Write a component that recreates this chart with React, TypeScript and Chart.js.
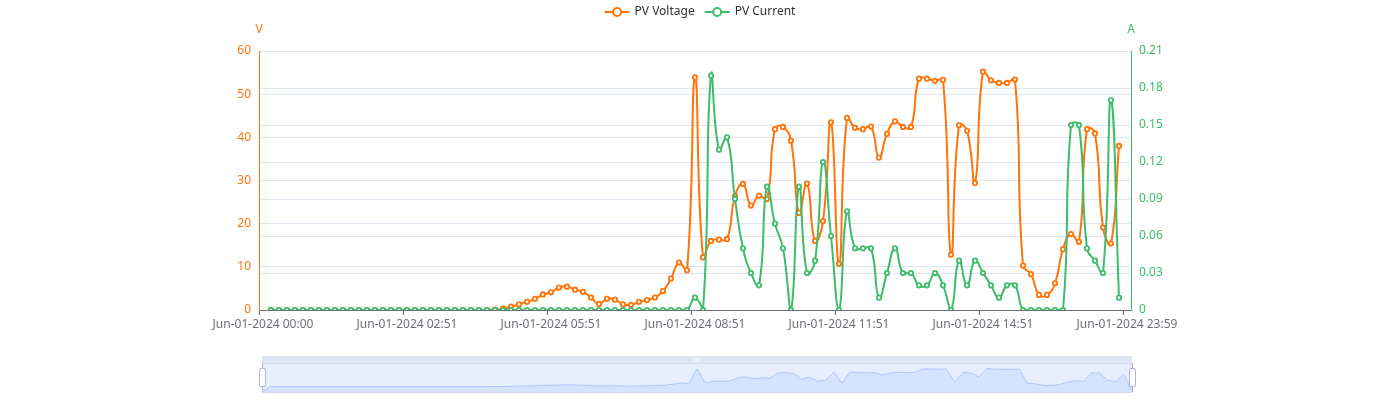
import React, { useEffect, useRef } from "react";
import { Chart, registerables } from "chart.js";

Chart.register(...registerables);

// ---------- data ----------
const DATE = "Jun-01-2024";
const TIMES = [
  "00:00",
  "00:01", "00:11", "00:21", "00:31", "00:41", "00:51",
  "01:01", "01:11", "01:21", "01:31", "01:41", "01:51",
  "02:01", "02:11", "02:21", "02:31", "02:41", "02:51",
  "03:01", "03:11", "03:21", "03:31", "03:41", "03:51",
  "04:01", "04:11", "04:21", "04:31", "04:41", "04:51",
  "05:01", "05:11", "05:21", "05:31", "05:41", "05:51",
  "06:01", "06:11", "06:21", "06:31", "06:41", "06:51",
  "07:01", "07:11", "07:21", "07:31", "07:41", "07:51",
  "08:01", "08:11", "08:21", "08:31", "08:41", "08:51",
  "09:01", "09:11", "09:21", "09:31", "09:41", "09:51",
  "10:01", "10:11", "10:21", "10:31", "10:41", "10:51",
  "11:01", "11:11", "11:21", "11:31", "11:41", "11:51",
  "12:01", "12:11", "12:21", "12:31", "12:41", "12:51",
  "13:01", "13:11", "13:21", "13:31", "13:41", "13:51",
  "14:01", "14:11", "14:21", "14:31", "14:41", "14:51",
  "15:01", "15:11", "15:21", "15:31", "15:41", "15:51",
  "16:01", "16:11", "16:21", "16:31", "16:41", "16:51",
  "17:01", "17:11", "17:21", "17:31", "17:41",
  "23:59",
];
const LABELS = TIMES.map((t) => `${DATE} ${t}`);

const VOLTAGE: (number | null)[] = [
  null,
  0, 0, 0, 0, 0, 0, 0, 0, 0, 0, 0, 0, 0, 0,
  0, 0, 0, 0, 0, 0, 0, 0, 0, 0, 0, 0, 0, 0,
  0.1, 0.3, 0.8, 1.3, 1.9, 2.6, 3.6, 4.1, 5.2, 5.4,
  4.7, 4.2, 2.9, 1.4, 2.6, 2.4, 1.3, 1.2, 1.9, 2.3,
  2.9, 4.4, 7.3, 11.0, 9.2,
  53.9, 12.2, 16.0, 16.3, 16.4, 26.4, 29.2, 24.2, 26.5, 25.7,
  41.9, 42.4, 39.2, 22.5, 29.3, 16.0, 20.6, 43.5, 10.7, 44.5,
  42.2, 41.9, 42.5, 35.3, 40.8, 43.7, 42.4, 42.4, 53.6, 53.6,
  53.1, 53.3, 12.8, 42.8, 41.5, 29.4, 55.2, 53.2, 52.6, 52.6,
  53.4, 10.3, 8.3, 3.5, 3.5, 6.2, 14.1, 17.6, 15.8, 41.9,
  40.9, 19.1, 15.4, 38.0,
  null,
];

const CURRENT: (number | null)[] = [
  null,
  0, 0, 0, 0, 0, 0, 0, 0, 0, 0, 0, 0, 0, 0, 0, 0, 0, 0,
  0, 0, 0, 0, 0, 0, 0, 0, 0, 0, 0, 0, 0, 0, 0, 0, 0, 0,
  0, 0, 0, 0, 0, 0, 0, 0, 0, 0, 0, 0, 0, 0, 0, 0, 0,
  0.01, 0, 0.19, 0.13, 0.14, 0.09, 0.05, 0.03, 0.02, 0.10,
  0.07, 0.05, 0, 0.10, 0.03, 0.04, 0.12, 0.06, 0, 0.08,
  0.05, 0.05, 0.05, 0.01, 0.03, 0.05, 0.03, 0.03, 0.02, 0.02,
  0.03, 0.02, 0, 0.04, 0.02, 0.04, 0.03, 0.02, 0.01, 0.02,
  0.02, 0, 0, 0, 0, 0, 0, 0.15, 0.15, 0.05,
  0.04, 0.03, 0.17, 0.01,
  null,
];

const SERIES_NAMES = ["PV Voltage", "PV Current"];
const AXIS_NAMES = ["V", "A"];
const V_AXIS = { min: 0, max: 60, step: 10 };
const A_AXIS = { min: 0, max: 0.21, step: 0.03 };
const LABEL_EVERY = 18;

// ---------- style ----------
const ORANGE = "#ff7409";
const GREEN = "#3dbd69";
const GRID = "#e0e6f1";
const AXIS_GRAY = "#6e7079";
const TEXT = "#333";
const FONT = "'Noto Sans', 'DejaVu Sans', sans-serif";

const W = 1400;
const MAIN_H = 340;
const ZOOM_H = 60;
const PLOT_LEFT = 259;
const PLOT_RIGHT = 1131;
const PLOT_TOP = 51;
const X_AXIS_H = 30;

const legendPlugin = {
  id: "echartsLegend",
  afterDraw(chart: any) {
    const ctx: CanvasRenderingContext2D = chart.ctx;
    ctx.save();
    ctx.font = `12px ${FONT}`;
    const items = chart.data.datasets.map((ds: any) => ({ text: ds.label, color: ds.borderColor }));
    const iconW = 25;
    const textPad = 5;
    const gap = 10;
    const widths = items.map((it: any) => ctx.measureText(it.text).width);
    const total =
      widths.reduce((a: number, w: number) => a + iconW + textPad + w, 0) + gap * (items.length - 1);
    let x = chart.width / 2 - total / 2;
    const y = 12;
    items.forEach((it: any, i: number) => {
      ctx.strokeStyle = it.color;
      ctx.lineWidth = 2;
      ctx.beginPath();
      ctx.moveTo(x, y);
      ctx.lineTo(x + iconW, y);
      ctx.stroke();
      ctx.beginPath();
      ctx.arc(x + iconW / 2, y, 4, 0, Math.PI * 2);
      ctx.fillStyle = "#fff";
      ctx.fill();
      ctx.stroke();
      ctx.fillStyle = TEXT;
      ctx.textAlign = "left";
      ctx.textBaseline = "middle";
      ctx.fillText(it.text, x + iconW + textPad, y);
      x += iconW + textPad + widths[i] + gap;
    });
    // axis names above the y axes
    const area = chart.chartArea;
    ctx.textAlign = "center";
    ctx.textBaseline = "middle";
    ctx.fillStyle = ORANGE;
    ctx.fillText(AXIS_NAMES[0], area.left, area.top - 21);
    ctx.fillStyle = GREEN;
    ctx.fillText(AXIS_NAMES[1], area.right, area.top - 21);
    ctx.restore();
  },
};

const sliderPlugin = {
  id: "echartsSlider",
  afterDatasetsDraw(chart: any) {
    const ctx: CanvasRenderingContext2D = chart.ctx;
    const a = chart.chartArea;
    ctx.save();
    // selected range filler
    ctx.fillStyle = "rgba(135,175,255,0.2)";
    ctx.fillRect(a.left, a.top, a.right - a.left, a.bottom - a.top);
    // border
    ctx.strokeStyle = "#d2dbee";
    ctx.lineWidth = 1;
    ctx.strokeRect(a.left + 0.5, a.top + 0.5, a.right - a.left - 1, a.bottom - a.top);
    // move handle bar
    ctx.fillStyle = "rgba(210,219,238,0.7)";
    ctx.fillRect(a.left, a.top - 7, a.right - a.left, 7);
    const cx = (a.left + a.right) / 2;
    ctx.fillStyle = "#fff";
    [-2.5, 0, 2.5].forEach((d) => ctx.fillRect(cx + d - 0.5, a.top - 5.5, 1, 4));
    // handles
    const h = a.bottom - a.top;
    const bodyH = h * 0.625;
    const bodyW = 6;
    const cy = a.top + h / 2;
    [a.left, a.right].forEach((hx) => {
      ctx.strokeStyle = "#acb8d1";
      ctx.lineWidth = 1;
      ctx.beginPath();
      ctx.moveTo(hx + 0.5, a.top);
      ctx.lineTo(hx + 0.5, a.bottom);
      ctx.stroke();
      const x0 = hx - bodyW / 2 + 0.5;
      const y0 = cy - bodyH / 2;
      const r = 1.5;
      ctx.beginPath();
      ctx.moveTo(x0 + r, y0);
      ctx.lineTo(x0 + bodyW - r, y0);
      ctx.arcTo(x0 + bodyW, y0, x0 + bodyW, y0 + r, r);
      ctx.lineTo(x0 + bodyW, y0 + bodyH - r);
      ctx.arcTo(x0 + bodyW, y0 + bodyH, x0 + bodyW - r, y0 + bodyH, r);
      ctx.lineTo(x0 + r, y0 + bodyH);
      ctx.arcTo(x0, y0 + bodyH, x0, y0 + bodyH - r, r);
      ctx.lineTo(x0, y0 + r);
      ctx.arcTo(x0, y0, x0 + r, y0, r);
      ctx.closePath();
      ctx.fillStyle = "#fff";
      ctx.fill();
      ctx.stroke();
    });
    ctx.restore();
  },
};

export default function App() {
  const mainRef = useRef<HTMLCanvasElement | null>(null);
  const zoomRef = useRef<HTMLCanvasElement | null>(null);

  useEffect(() => {
    if (!mainRef.current || !zoomRef.current) return;
    Chart.defaults.font.family = FONT;
    Chart.defaults.font.size = 12;

    const main = new Chart(mainRef.current, {
      type: "line",
      data: {
        labels: LABELS,
        datasets: [
          {
            label: SERIES_NAMES[0],
            data: VOLTAGE,
            yAxisID: "y",
            borderColor: ORANGE,
            backgroundColor: ORANGE,
            borderWidth: 2,
            tension: 0.5,
            pointRadius: 2.2,
            pointBorderWidth: 1.8,
            pointBackgroundColor: "#fff",
            pointBorderColor: ORANGE,
            order: 2,
          },
          {
            label: SERIES_NAMES[1],
            data: CURRENT,
            yAxisID: "y1",
            borderColor: GREEN,
            backgroundColor: GREEN,
            borderWidth: 2,
            tension: 0.5,
            pointRadius: 2.2,
            pointBorderWidth: 1.8,
            pointBackgroundColor: "#fff",
            pointBorderColor: GREEN,
            order: 1,
          },
        ],
      },
      options: {
        responsive: false,
        maintainAspectRatio: false,
        animation: false,
        layout: { padding: { top: PLOT_TOP, left: 0, right: 0, bottom: 0 } },
        plugins: {
          legend: { display: false },
          tooltip: { enabled: false },
          title: { display: false },
        },
        scales: {
          x: {
            type: "category",
            offset: true,
            grid: {
              display: true,
              drawOnChartArea: false,
              drawTicks: true,
              tickLength: 5,
              offset: true,
              color: (c: any) =>
                typeof c.index === "number" && c.index % LABEL_EVERY === 0 ? AXIS_GRAY : "rgba(0,0,0,0)",
            },
            border: { display: true, color: AXIS_GRAY, width: 1 },
            ticks: {
              autoSkip: false,
              maxRotation: 0,
              minRotation: 0,
              padding: 2,
              color: AXIS_GRAY,
              font: { size: 12, family: FONT },
              callback: function (this: any, v: any, i: number) {
                return i % LABEL_EVERY === 0 ? this.getLabelForValue(v) : "";
              },
            },
            afterFit: (s: any) => {
              s.height = X_AXIS_H;
            },
          },
          y: {
            type: "linear",
            position: "left",
            min: V_AXIS.min,
            max: V_AXIS.max,
            ticks: { stepSize: V_AXIS.step, color: ORANGE, padding: 8, font: { size: 12, family: FONT } },
            grid: { color: GRID, drawTicks: false },
            border: { display: true, color: ORANGE, width: 1 },
            afterFit: (s: any) => {
              s.width = PLOT_LEFT;
            },
          },
          y1: {
            type: "linear",
            position: "right",
            min: A_AXIS.min,
            max: A_AXIS.max,
            ticks: { stepSize: A_AXIS.step, color: GREEN, padding: 8, font: { size: 12, family: FONT } },
            grid: { color: GRID, drawTicks: false },
            border: { display: true, color: GREEN, width: 1 },
            afterFit: (s: any) => {
              s.width = W - PLOT_RIGHT;
            },
          },
        },
      },
      plugins: [legendPlugin],
    } as any);

    // data zoom slider with data shadow of the first series
    const vals = VOLTAGE.filter((v) => v != null) as number[];
    const vMin = Math.min(...vals);
    const vMax = Math.max(...vals);
    const pad = (vMax - vMin) * 0.3;
    const shadowMin = vMin - pad;
    const shadowMax = vMax + pad;
    const shadow = VOLTAGE.map((v) => (v == null ? shadowMin : v));

    const zoom = new Chart(zoomRef.current, {
      type: "line",
      data: {
        labels: LABELS,
        datasets: [
          {
            data: shadow,
            borderColor: "#8fb0f7",
            borderWidth: 0.6,
            backgroundColor: "rgba(143,176,247,0.2)",
            fill: "start",
            pointRadius: 0,
            tension: 0,
          },
        ],
      },
      options: {
        responsive: false,
        maintainAspectRatio: false,
        animation: false,
        layout: { padding: { left: 262, right: W - 1132, top: 23, bottom: 8 } },
        plugins: { legend: { display: false }, tooltip: { enabled: false } },
        scales: {
          x: { type: "category", display: false, offset: false },
          y: { type: "linear", display: false, min: shadowMin, max: shadowMax },
        },
      },
      plugins: [sliderPlugin],
    } as any);

    return () => {
      main.destroy();
      zoom.destroy();
    };
  }, []);

  return (
    <div style={{ position: "absolute", left: 0, top: 0, width: W, height: MAIN_H + ZOOM_H, background: "#fff" }}>
      <canvas
        ref={mainRef}
        width={W}
        height={MAIN_H}
        style={{ position: "absolute", left: 0, top: 0, width: W, height: MAIN_H }}
      />
      <canvas
        ref={zoomRef}
        width={W}
        height={ZOOM_H}
        style={{ position: "absolute", left: 0, top: MAIN_H, width: W, height: ZOOM_H }}
      />
    </div>
  );
}
